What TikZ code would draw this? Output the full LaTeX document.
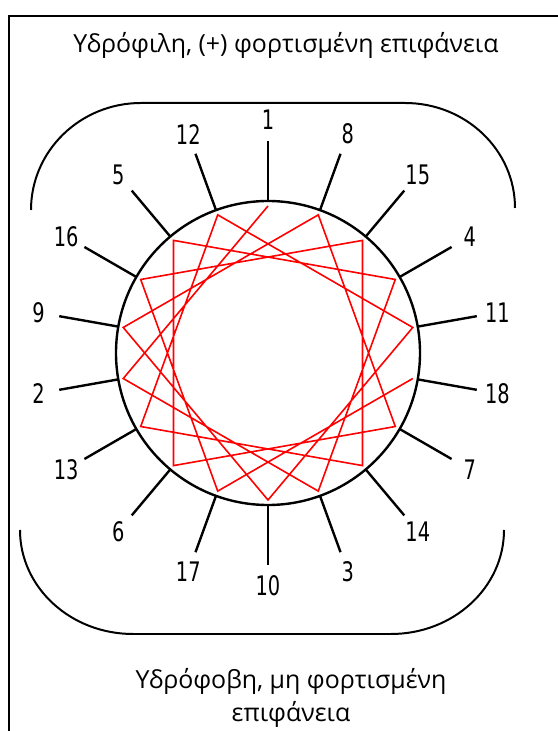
\documentclass[tikz,border=0pt]{standalone}
\usepackage{fontspec}
\setmainfont{Open Sans}
\newfontfamily\numfont{DejaVu Sans}[FakeStretch=0.72]
\usetikzlibrary{calc}
\definecolor{helixred}{HTML}{FF0000}

\tikzset{
  frame/.style={line width=2pt, black},
  wheel/.style={line width=2.4pt, black},
  spoke/.style={line width=2.4pt, black},
  bracket/.style={line width=2pt, black},
  helix/.style={line width=1.6pt, helixred, line join=miter},
  numlabel/.style={font=\numfont\fontsize{27}{27}\selectfont, inner sep=0pt},
  surface/.style={font=\fontsize{25}{33}\selectfont, align=center, inner sep=0pt}
}

\begin{document}
\begin{tikzpicture}[x=1bp, y=1bp]
    \useasboundingbox (0,0) rectangle (558,731);

    % frame
    \draw[frame] (9,0) -- (9,715) -- (558,715);

    % surfaces
    \node[surface] (top) at (286,686) {Υδρόφιλη, (+) φορτισμένη επιφάνεια};
    \node[surface] (bottom) at (291,33) {Υδρόφοβη, μη φορτισμένη\\επιφάνεια};

    % brackets
    \draw[bracket] (31,521) arc[start angle=180, end angle=90, x radius=110, y radius=107]
        -- (405,628) arc[start angle=90, end angle=0, x radius=110, y radius=105];
    \draw[bracket] (20,201) arc[start angle=180, end angle=270, x radius=113, y radius=104]
        -- (391,97) arc[start angle=270, end angle=360, x radius=113, y radius=104];

    % helical wheel
    \coordinate (c) at (268,378);
    \draw[wheel] (c) circle[radius=152];
    \foreach \n in {1,...,18} {
        \pgfmathsetmacro\ang{90+(\n-1)*100}
        \coordinate (w\n) at ($(c)+(\ang:152)$);
        \coordinate (t\n) at ($(c)+(\ang:212)$);
        \coordinate (h\n) at ($(c)+(\ang:147)$);
        \node[numlabel] (n\n) at ($(c)+(\ang:233)$) {\n};
        \draw[spoke] (w\n) -- (t\n);
    }

    % residue path
    \draw[helix] (h1) \foreach \n in {2,...,18} { -- (h\n) };
\end{tikzpicture}
\end{document}
